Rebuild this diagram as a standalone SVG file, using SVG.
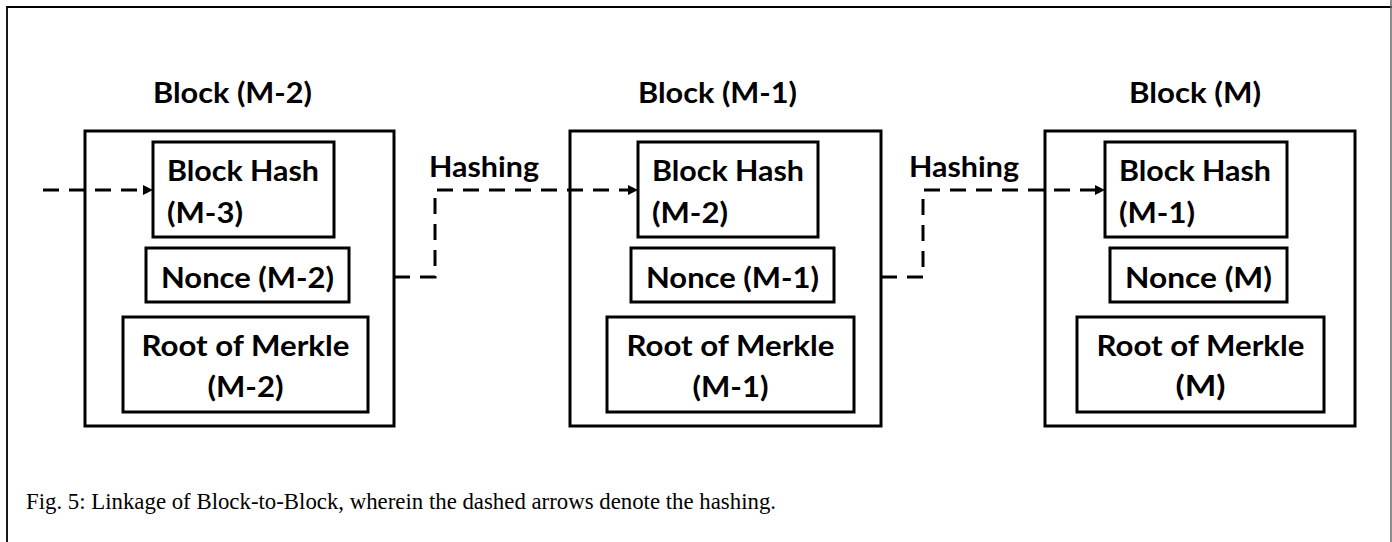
<svg xmlns="http://www.w3.org/2000/svg" width="1392" height="542" viewBox="0 0 1392 542">
  <style>
    .box { fill: #ffffff; stroke: #000000; stroke-width: 3; }
    .t { font-family: Lato, "Open Sans", "Liberation Sans", sans-serif; font-weight: bold; font-size: 28px; fill: #000000; }
    .c { text-anchor: middle; }
    .dash { fill: none; stroke: #000000; stroke-width: 3; stroke-dasharray: 16 10; }
    .cap { font-family: "Liberation Serif", "Times New Roman", serif; font-size: 22.5px; fill: #000000; }
  </style>
  <defs>
    <marker id="arrow" viewBox="0 0 10 10" refX="0" refY="5" markerWidth="10" markerHeight="10" markerUnits="userSpaceOnUse" orient="auto">
      <path d="M0,0 L10,5 L0,10 z" fill="#000000"/>
    </marker>
  </defs>

  <g id="frame">
    <path d="M7,542 V7 H1392" fill="none" stroke="#000000" stroke-width="1.8"/>
    <line x1="1391" y1="0" x2="1391" y2="542" stroke="#666666" stroke-width="1.5"/>
  </g>

  <g id="block-m2">
    <text class="t" x="153" y="103" textLength="159" lengthAdjust="spacingAndGlyphs">Block (M-2)</text>
    <rect class="box" x="85" y="131" width="309" height="295"/>
    <g id="hash-m2">
      <rect class="box" x="153" y="142" width="181" height="95"/>
      <text class="t" x="167" y="181" textLength="152" lengthAdjust="spacingAndGlyphs">Block Hash</text>
      <text class="t" x="167" y="223" textLength="76" lengthAdjust="spacingAndGlyphs">(M-3)</text>
    </g>
    <g id="nonce-m2">
      <rect class="box" x="146" y="248" width="203" height="54"/>
      <text class="t c" x="247.5" y="288" textLength="173" lengthAdjust="spacingAndGlyphs">Nonce (M-2)</text>
    </g>
    <g id="root-m2">
      <rect class="box" x="123" y="317" width="245" height="95"/>
      <text class="t c" x="245.5" y="356" textLength="208" lengthAdjust="spacingAndGlyphs">Root of Merkle</text>
      <text class="t c" x="245.5" y="397" textLength="76" lengthAdjust="spacingAndGlyphs">(M-2)</text>
    </g>
  </g>

  <g id="block-m1">
    <text class="t" x="638" y="103" textLength="159" lengthAdjust="spacingAndGlyphs">Block (M-1)</text>
    <rect class="box" x="570" y="131" width="311" height="295"/>
    <g id="hash-m1">
      <rect class="box" x="638" y="142" width="180" height="95"/>
      <text class="t" x="652" y="181" textLength="152" lengthAdjust="spacingAndGlyphs">Block Hash</text>
      <text class="t" x="652" y="223" textLength="76" lengthAdjust="spacingAndGlyphs">(M-2)</text>
    </g>
    <g id="nonce-m1">
      <rect class="box" x="631" y="248" width="203" height="54"/>
      <text class="t c" x="732.5" y="288" textLength="173" lengthAdjust="spacingAndGlyphs">Nonce (M-1)</text>
    </g>
    <g id="root-m1">
      <rect class="box" x="607" y="317" width="247" height="95"/>
      <text class="t c" x="730.5" y="356" textLength="208" lengthAdjust="spacingAndGlyphs">Root of Merkle</text>
      <text class="t c" x="730.5" y="397" textLength="76" lengthAdjust="spacingAndGlyphs">(M-1)</text>
    </g>
  </g>

  <g id="block-m">
    <text class="t" x="1129" y="103" textLength="132" lengthAdjust="spacingAndGlyphs">Block (M)</text>
    <rect class="box" x="1045" y="131" width="310" height="295"/>
    <g id="hash-m">
      <rect class="box" x="1105" y="142" width="182" height="95"/>
      <text class="t" x="1119" y="181" textLength="152" lengthAdjust="spacingAndGlyphs">Block Hash</text>
      <text class="t" x="1119" y="223" textLength="76" lengthAdjust="spacingAndGlyphs">(M-1)</text>
    </g>
    <g id="nonce-m">
      <rect class="box" x="1110" y="248" width="177" height="54"/>
      <text class="t c" x="1198.5" y="288" textLength="147" lengthAdjust="spacingAndGlyphs">Nonce (M)</text>
    </g>
    <g id="root-m">
      <rect class="box" x="1077" y="317" width="247" height="95"/>
      <text class="t c" x="1200.5" y="356" textLength="208" lengthAdjust="spacingAndGlyphs">Root of Merkle</text>
      <text class="t c" x="1200.5" y="396" textLength="50" lengthAdjust="spacingAndGlyphs">(M)</text>
    </g>
  </g>

  <g id="connectors">
    <path class="dash" d="M43,190 H143" marker-end="url(#arrow)"/>
    <path class="dash" d="M394,277 H435 V190 H628" marker-end="url(#arrow)"/>
    <path class="dash" d="M881,277 H923 V190 H1095" marker-end="url(#arrow)"/>
    <text class="t" x="429" y="177" textLength="110" lengthAdjust="spacingAndGlyphs">Hashing</text>
    <text class="t" x="909" y="177" textLength="110" lengthAdjust="spacingAndGlyphs">Hashing</text>
  </g>

  <text id="caption" class="cap" x="26" y="509" textLength="750" lengthAdjust="spacingAndGlyphs">Fig. 5: Linkage of Block-to-Block, wherein the dashed arrows denote the hashing.</text>
</svg>
